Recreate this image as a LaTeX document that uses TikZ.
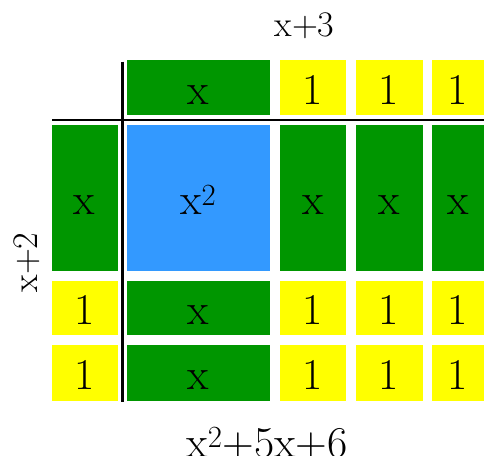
\documentclass[tikz,border=0pt]{standalone}
\definecolor{tgreen}{RGB}{0,150,0}
\definecolor{tblue}{RGB}{51,153,255}
\definecolor{tyellow}{RGB}{255,255,0}
\begin{document}
\begin{tikzpicture}[x=1pt,y=-1pt,
  tile/.style={anchor=north west, inner sep=0pt, outer sep=0pt,
    text height=34pt, text depth=0pt,
    font=\fontsize{44}{48}\selectfont},
  gtile/.style={tile, fill=tgreen},
  ytile/.style={tile, fill=tyellow},
  btile/.style={tile, fill=tblue},
  divider/.style={line width=2.5pt, black},
  lbl/.style={anchor=base, inner sep=0pt, font=\fontsize{36}{40}\selectfont},
  biglbl/.style={anchor=base, inner sep=0pt, font=\fontsize{44}{48}\selectfont}]
\useasboundingbox (0,0) rectangle (484,455);
% top row
\node[gtile, minimum width=143.5pt, minimum height=55.5pt] (tx) at (126.5,59.5) {x};
\node[ytile, minimum width=66pt, minimum height=55.5pt] (t1) at (280,59.5) {1};
\node[ytile, minimum width=67pt, minimum height=55.5pt] (t2) at (355.5,59.5) {1};
\node[ytile, minimum width=52pt, minimum height=55.5pt] (t3) at (432,59.5) {1};
% x row
\node[gtile, minimum width=66pt, minimum height=146pt] (lx) at (51.5,124.5) {x};
\node[btile, minimum width=143.5pt, minimum height=146pt] (xx) at (126.5,124.5) {x\textsuperscript{2}};
\node[gtile, minimum width=66pt, minimum height=146pt] (x1) at (280,124.5) {x};
\node[gtile, minimum width=67pt, minimum height=146pt] (x2) at (355.5,124.5) {x};
\node[gtile, minimum width=52pt, minimum height=146pt] (x3) at (432,124.5) {x};
% 1 row a
\node[ytile, minimum width=66pt, minimum height=54.5pt] (la) at (51.5,280.5) {1};
\node[gtile, minimum width=143.5pt, minimum height=54.5pt] (ax) at (126.5,280.5) {x};
\node[ytile, minimum width=66pt, minimum height=54.5pt] (a1) at (280,280.5) {1};
\node[ytile, minimum width=67pt, minimum height=54.5pt] (a2) at (355.5,280.5) {1};
\node[ytile, minimum width=52pt, minimum height=54.5pt] (a3) at (432,280.5) {1};
% 1 row b
\node[ytile, minimum width=66pt, minimum height=55.5pt] (lb) at (51.5,345) {1};
\node[gtile, minimum width=143.5pt, minimum height=55.5pt] (bx) at (126.5,345) {x};
\node[ytile, minimum width=66pt, minimum height=55.5pt] (b1) at (280,345) {1};
\node[ytile, minimum width=67pt, minimum height=55.5pt] (b2) at (355.5,345) {1};
\node[ytile, minimum width=52pt, minimum height=55.5pt] (b3) at (432,345) {1};
% dividers
\coordinate (hl) at (52,120);
\coordinate (hr) at (484,120);
\coordinate (vt) at (122.5,61.5);
\coordinate (vb) at (122.5,401.5);
\draw[divider] (hl) -- (hr);
\draw[divider] (vt) -- (vb);
% labels
\node[lbl] (top) at (304.5,36) {x+3};
\node[lbl, rotate=90] (left) at (37,262.5) {x+2};
\node[biglbl] (bottom) at (267,457) {x\textsuperscript{2}+5x+6};
\end{tikzpicture}
\end{document}
